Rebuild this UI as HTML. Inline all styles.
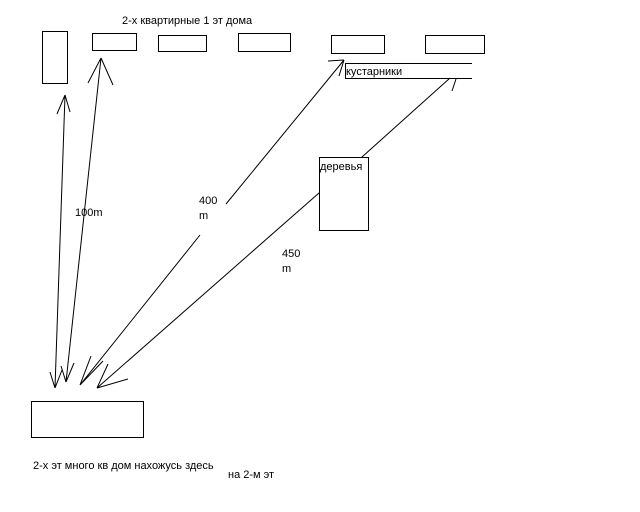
<!DOCTYPE html>
<html><head><meta charset="utf-8"><style>
html,body{margin:0;padding:0;background:#fff;}
svg{display:block;}
text{font-family:"Liberation Sans",sans-serif;font-size:11px;fill:#000;}
</style></head><body>
<svg width="640" height="512" viewBox="0 0 640 512" xmlns="http://www.w3.org/2000/svg">
<g fill="none" stroke="#000" stroke-width="1">
<rect x="42.5" y="31.5" width="25" height="52"/>
<rect x="92.5" y="33.5" width="44" height="17"/>
<rect x="158.5" y="35.5" width="48" height="16"/>
<rect x="238.5" y="33.5" width="52" height="18"/>
<rect x="331.5" y="35.5" width="53" height="18"/>
<rect x="425.5" y="35.5" width="59" height="18"/>
<path d="M472 63.5H345.5V78.5H472"/>
<rect x="319.5" y="157.5" width="49" height="73"/>
<rect x="31.5" y="401.5" width="112" height="36"/>
<!-- arrow 1 -->
<path d="M65 95L55 388M65 95L57 114M65 95L70 112M55 388L50 372M55 388L62 370"/>
<!-- arrow 2 -->
<path d="M101 58L66 382M101 58L88 83M101 58L113 85M66 382L61 366M66 382L74 363"/>
<!-- arrow 3 -->
<path d="M80 385L200 235M226 204L344 60M80 385L91 356M80 385L103 361M344 60L328 61M344 60L339 76"/>
<!-- arrow 4 -->
<path d="M97 388L319 193M362 157L450 78M97 388L108 364M97 388L128 379M456 79L452 91"/>
</g>
<text x="122" y="24">2-х квартирные 1 эт дома</text>
<text x="346" y="75">кустарники</text>
<text x="320" y="170">деревья</text>
<text x="75" y="216">100m</text>
<text x="199" y="204">400</text>
<text x="199" y="219">m</text>
<text x="282" y="257">450</text>
<text x="282" y="272">m</text>
<text x="33" y="469">2-х эт много кв дом нахожусь здесь</text>
<text x="228" y="478">на 2-м эт</text>
</svg>
</body></html>
